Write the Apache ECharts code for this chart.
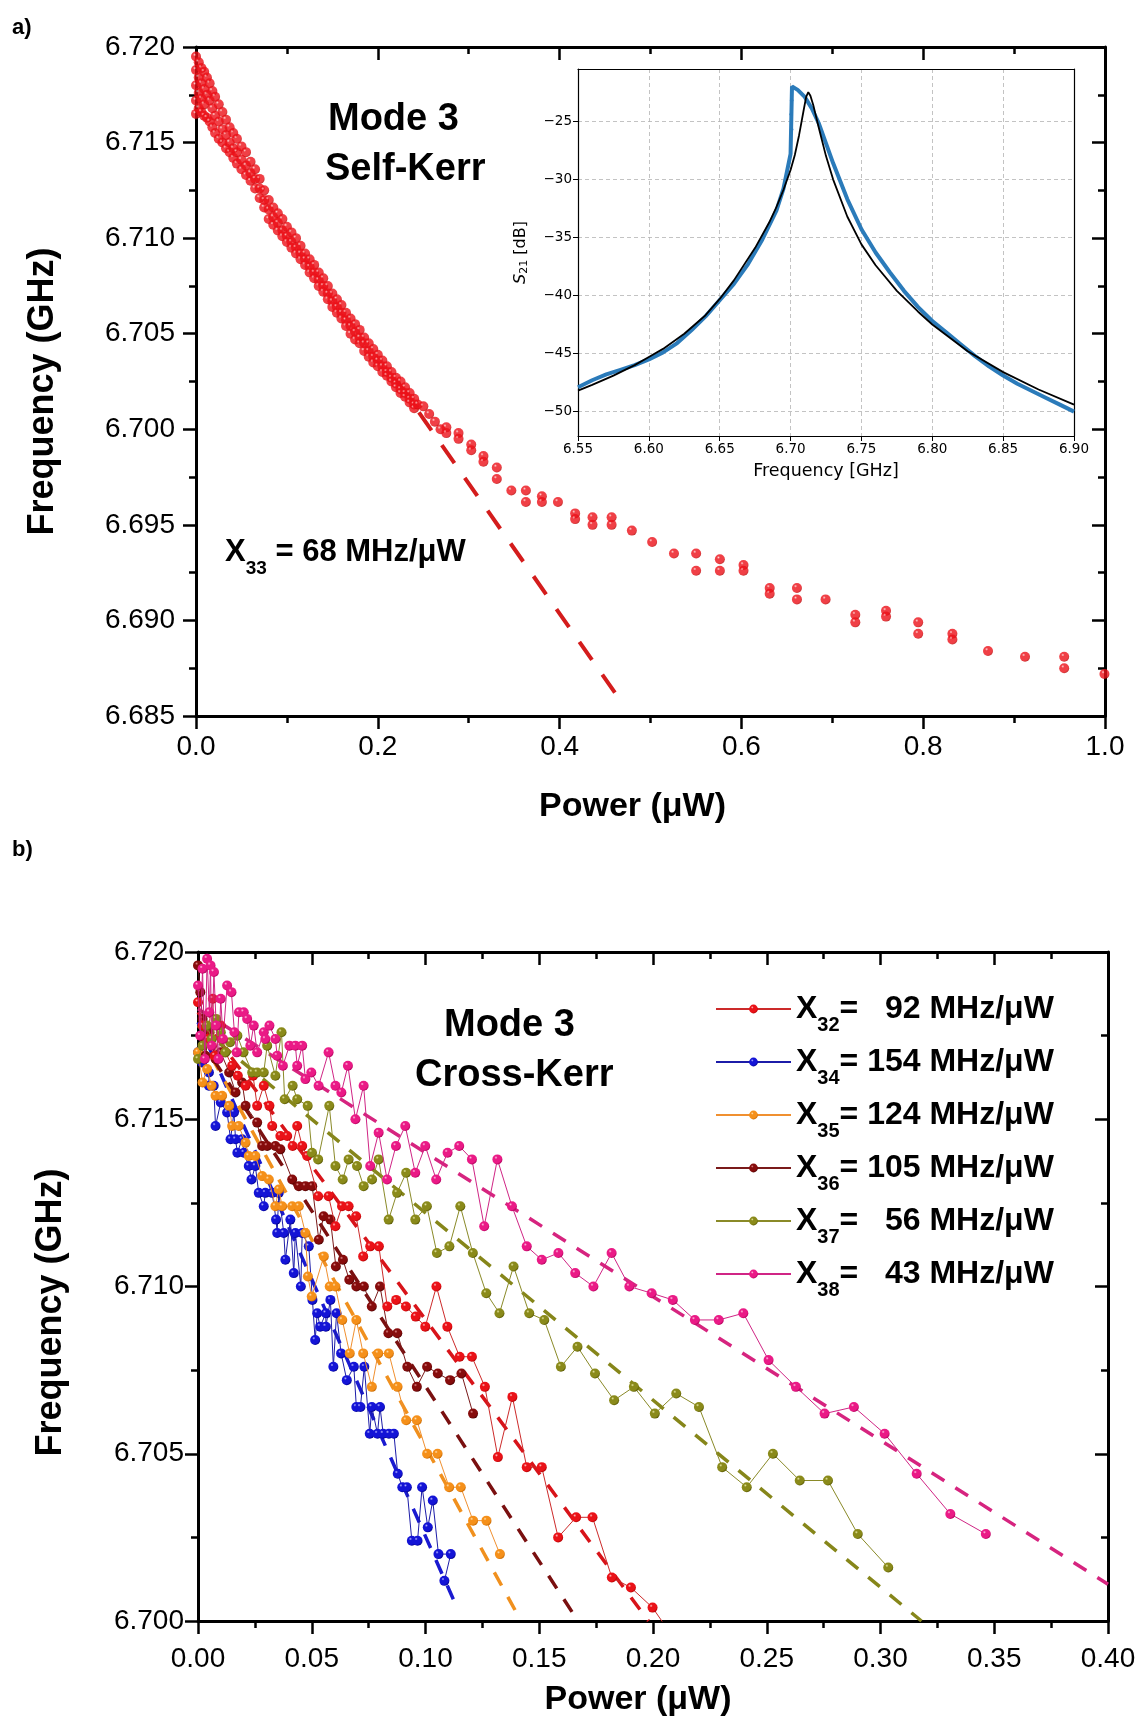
<!DOCTYPE html>
<html><head><meta charset="utf-8">
<script src="https://cdn.jsdelivr.net/npm/echarts/dist/echarts.min.js"></script>
<style>html,body{margin:0;padding:0;background:#fff}#c{width:1148px;height:1724px}</style>
</head><body><div id="c"></div><script>
// ---------- Panel a: self-Kerr (Power µW, Frequency GHz) ----------
const selfKerr = [
[0.000,6.7195],[0.000,6.7188],[0.000,6.7180],[0.000,6.7172],[0.000,6.7165],
[0.003,6.7192],[0.003,6.7184],[0.003,6.7176],[0.003,6.7168],
[0.006,6.7189],[0.006,6.7181],[0.006,6.7173],[0.006,6.7166],
[0.009,6.7187],[0.009,6.7178],[0.009,6.7170],[0.009,6.7164],
[0.012,6.7184],[0.012,6.7175],[0.012,6.7163],
[0.015,6.7181],[0.015,6.7172],[0.015,6.7161],
[0.018,6.7177],[0.018,6.7168],[0.018,6.7158],
[0.021,6.7174],[0.021,6.7164],[0.021,6.7155],
[0.025,6.7170],[0.025,6.7161],[0.025,6.7152],
[0.029,6.7166],[0.029,6.7157],[0.029,6.7150],
[0.033,6.7162],[0.033,6.7154],[0.033,6.7147],
[0.037,6.7158],[0.037,6.7150],[0.037,6.7145],
[0.041,6.7155],[0.041,6.7147],[0.041,6.7142],
[0.045,6.7152],[0.045,6.7145],[0.045,6.7139],
[0.050,6.7148],[0.050,6.7141],[0.050,6.7136],
[0.055,6.7145],[0.055,6.7138],[0.055,6.7133],
[0.060,6.7140],[0.060,6.7134],[0.060,6.7130],
[0.065,6.7136],[0.065,6.7131],[0.065,6.7126],
[0.070,6.7131],[0.070,6.7126],[0.070,6.7121],
[0.075,6.7125],[0.075,6.7120],[0.075,6.7116],
[0.080,6.7120],[0.080,6.7115],[0.080,6.7110],
[0.085,6.7116],[0.085,6.7111],[0.085,6.7107],
[0.090,6.7113],[0.090,6.7108],[0.090,6.7104],
[0.095,6.7110],[0.095,6.7104],[0.095,6.7101],
[0.100,6.7106],[0.100,6.7101],[0.100,6.7098],
[0.105,6.7103],[0.105,6.7098],[0.105,6.7095],
[0.110,6.7100],[0.110,6.7095],[0.110,6.7092],
[0.115,6.7096],[0.115,6.7092],[0.115,6.7089],
[0.120,6.7092],[0.120,6.7089],[0.120,6.7086],
[0.125,6.7089],[0.125,6.7085],[0.125,6.7082],
[0.130,6.7086],[0.130,6.7082],[0.130,6.7079],
[0.135,6.7082],[0.135,6.7078],[0.135,6.7075],
[0.140,6.7079],[0.140,6.7075],[0.140,6.7072],
[0.145,6.7075],[0.145,6.7071],[0.145,6.7068],
[0.150,6.7071],[0.150,6.7067],[0.150,6.7064],
[0.155,6.7068],[0.155,6.7064],[0.155,6.7061],
[0.160,6.7065],[0.160,6.7061],[0.160,6.7058],
[0.165,6.7061],[0.165,6.7057],[0.165,6.7054],
[0.170,6.7058],[0.170,6.7054],[0.170,6.7050],
[0.175,6.7055],[0.175,6.7051],[0.175,6.7047],
[0.180,6.7052],[0.180,6.7048],[0.180,6.7045],
[0.185,6.7048],[0.185,6.7045],[0.185,6.7041],
[0.190,6.7045],[0.190,6.7041],[0.190,6.7038],
[0.195,6.7042],[0.195,6.7038],[0.195,6.7035],
[0.200,6.7039],[0.200,6.7036],[0.200,6.7033],
[0.205,6.7036],[0.205,6.7033],[0.205,6.7030],
[0.210,6.7033],[0.210,6.7030],[0.210,6.7028],
[0.215,6.7030],[0.215,6.7027],[0.215,6.7025],
[0.220,6.7027],[0.220,6.7024],[0.220,6.7022],
[0.225,6.7025],[0.225,6.7021],[0.225,6.7019],
[0.230,6.7022],[0.230,6.7019],[0.230,6.7017],
[0.235,6.7019],[0.235,6.7016],[0.235,6.7014],
[0.240,6.7016],[0.240,6.7013],[0.240,6.7011],
[0.2439,6.7013],[0.2501,6.7012],[0.2565,6.7008],[0.2628,6.7004],[0.2690,6.7000],
[0.2754,6.7001],[0.2754,6.6998],[0.2888,6.6998],[0.2888,6.6995],[0.3028,6.6992],[0.3028,6.6989],
[0.3162,6.6986],[0.3162,6.6983],[0.3309,6.6980],[0.3309,6.6974],[0.3469,6.6968],
[0.3629,6.6968],[0.3629,6.6962],[0.3805,6.6965],[0.3805,6.6962],[0.3982,6.6962],
[0.4171,6.6956],[0.4171,6.6953],[0.4362,6.6954],[0.4362,6.6950],[0.4572,6.6954],[0.4572,6.6950],
[0.4795,6.6947],[0.5018,6.6941],[0.5258,6.6935],[0.5502,6.6935],[0.5502,6.6926],
[0.5763,6.6932],[0.5763,6.6926],[0.6023,6.6929],[0.6023,6.6926],[0.6311,6.6917],[0.6311,6.6914],
[0.6611,6.6917],[0.6611,6.6911],[0.6926,6.6911],[0.7253,6.6903],[0.7253,6.6899],
[0.7591,6.6905],[0.7591,6.6902],[0.7945,6.6899],[0.7945,6.6893],[0.8321,6.6893],[0.8321,6.6890],
[0.8713,6.6884],[0.9120,6.6881],[0.9551,6.6881],[0.9551,6.6875],[0.9994,6.6872]
];
const selfKerrFit = [[0.22,6.7026],[0.47,6.6856]];

// ---------- Inset: S21 vs frequency ----------
const s21Measured = [
[6.550,-47.9],[6.555,-47.6],[6.560,-47.3],[6.570,-46.8],[6.580,-46.4],[6.590,-46.0],[6.600,-45.5],
[6.610,-44.9],[6.620,-44.1],[6.630,-43.0],[6.640,-41.8],[6.650,-40.4],[6.660,-39.0],[6.670,-37.3],
[6.680,-35.2],[6.690,-32.7],[6.695,-30.8],[6.700,-27.8],[6.701,-22.0],[6.705,-22.3],[6.710,-22.9],
[6.715,-23.9],[6.720,-25.2],[6.725,-26.9],[6.730,-28.6],[6.740,-31.7],[6.750,-34.3],[6.760,-36.3],
[6.770,-38.0],[6.780,-39.6],[6.790,-41.0],[6.800,-42.2],[6.810,-43.2],[6.820,-44.2],[6.830,-45.2],
[6.840,-46.1],[6.850,-46.9],[6.860,-47.6],[6.870,-48.2],[6.880,-48.8],[6.890,-49.4],[6.900,-50.0]
];
const s21Stray = [[6.7008,-23.2],[6.7008,-25.7],[6.7004,-24.4]];
const s21Fit = [
[6.550,-48.2],[6.560,-47.7],[6.575,-46.9],[6.590,-46.0],[6.600,-45.3],[6.610,-44.6],[6.625,-43.3],
[6.640,-41.7],[6.650,-40.3],[6.660,-38.7],[6.675,-35.9],[6.685,-33.7],[6.690,-32.4],[6.695,-30.9],
[6.700,-29.2],[6.703,-27.9],[6.706,-26.2],[6.709,-24.2],[6.711,-22.9],[6.7125,-22.5],[6.714,-22.8],
[6.716,-23.6],[6.718,-24.6],[6.720,-25.6],[6.725,-28.0],[6.730,-30.0],[6.740,-33.2],[6.750,-35.6],
[6.760,-37.4],[6.775,-39.6],[6.790,-41.4],[6.800,-42.5],[6.825,-44.8],[6.850,-46.6],[6.875,-48.1],[6.900,-49.4]
];

// ---------- Panel b: cross-Kerr ----------
const x32 = [
[0.000,6.7185],[0.002,6.7178],[0.004,6.7174],[0.0065,6.7186],[0.0073,6.7169],[0.010,6.7178],[0.012,6.7170],
[0.015,6.7166],[0.0175,6.7163],[0.0209,6.7160],[0.0242,6.7163],[0.026,6.7154],[0.0289,6.7160],[0.0314,6.7154],
[0.0326,6.7148],[0.0362,6.7145],[0.0392,6.7145],[0.0416,6.7142],[0.0436,6.7148],[0.0458,6.7142],[0.0480,6.7139],
[0.0528,6.7127],[0.0574,6.7127],[0.0604,6.7118],[0.0633,6.7124],[0.0662,6.7124],[0.0695,6.7121],[0.0726,6.7109],
[0.0757,6.7112],[0.0795,6.7112],[0.0832,6.7094],[0.0871,6.7096],[0.0914,6.7094],[0.0957,6.7091],[0.0999,6.7088],
[0.1048,6.7100],[0.1096,6.7088],[0.1150,6.7079],[0.1204,6.7079],[0.1261,6.7070],[0.1318,6.7049],[0.1382,6.7067],
[0.1445,6.7046],[0.1511,6.7046],[0.1583,6.7025],[0.1662,6.7031],[0.1734,6.7031],[0.1819,6.7013],[0.1903,6.7010],
[0.1998,6.7004],[0.2090,6.6995]
];
const x34 = [
[0.000,6.7170],[0.0018,6.7167],[0.0048,6.7164],[0.0048,6.7160],[0.0069,6.7160],[0.0077,6.7148],[0.0100,6.7155],
[0.0128,6.7152],[0.0143,6.7144],[0.0158,6.7152],[0.0165,6.7144],[0.0173,6.7140],[0.0194,6.7144],[0.0202,6.7140],
[0.0223,6.7136],[0.0235,6.7132],[0.0252,6.7136],[0.0267,6.7128],[0.0289,6.7124],[0.0296,6.7128],[0.0326,6.7128],
[0.0343,6.7120],[0.0348,6.7116],[0.0355,6.7128],[0.0377,6.7116],[0.0384,6.7108],[0.0406,6.7120],[0.0421,6.7104],
[0.0428,6.7116],[0.0452,6.7100],[0.0458,6.7116],[0.0487,6.7112],[0.0503,6.7096],[0.0515,6.7084],[0.0524,6.7092],
[0.0537,6.7088],[0.0562,6.7092],[0.0562,6.7088],[0.0582,6.7096],[0.0595,6.7076],[0.0609,6.7092],[0.0629,6.7080],
[0.0654,6.7072],[0.0685,6.7076],[0.0696,6.7064],[0.0714,6.7064],[0.0731,6.7076],[0.0755,6.7056],[0.0764,6.7064],
[0.0789,6.7056],[0.0800,6.7064],[0.0814,6.7056],[0.0839,6.7056],[0.0861,6.7056],[0.0878,6.7044],[0.0898,6.7040],
[0.0918,6.7040],[0.0940,6.7024],[0.0965,6.7024],[0.0985,6.7040],[0.1010,6.7028],[0.1032,6.7036],[0.1057,6.7020],
[0.1111,6.7020],[0.1083,6.7012]
];
const x35 = [
[0.000,6.7170],[0.002,6.7161],[0.004,6.7165],[0.006,6.7160],[0.0077,6.7157],[0.0106,6.7157],[0.0137,6.7154],
[0.0150,6.7148],[0.0179,6.7148],[0.0209,6.7143],[0.0223,6.7139],[0.0252,6.7139],[0.0282,6.7133],[0.0311,6.7132],
[0.0340,6.7124],[0.0355,6.7129],[0.0370,6.7124],[0.0414,6.7124],[0.0443,6.7124],[0.0472,6.7116],[0.0483,6.7103],
[0.0500,6.7097],[0.0553,6.7109],[0.0579,6.7100],[0.0604,6.7100],[0.0634,6.7090],[0.0667,6.7080],[0.0696,6.7090],
[0.0726,6.7080],[0.0764,6.7070],[0.0792,6.7080],[0.0839,6.7080],[0.0877,6.7070],[0.0915,6.7060],[0.0962,6.7060],
[0.1007,6.7050],[0.1053,6.7050],[0.1104,6.7040],[0.1155,6.7040],[0.1209,6.7030],[0.1268,6.7030],[0.1327,6.7020]
];
const x36 = [
[0.000,6.7196],[0.001,6.7188],[0.002,6.7180],[0.0033,6.7169],[0.005,6.7176],[0.0077,6.7168],[0.010,6.7170],
[0.0137,6.7164],[0.0165,6.7158],[0.0194,6.7161],[0.0209,6.7154],[0.0260,6.7149],[0.0282,6.7142],[0.0304,6.7142],
[0.0340,6.7142],[0.0362,6.7141],[0.0414,6.7132],[0.0443,6.7130],[0.0472,6.7130],[0.0502,6.7130],[0.0531,6.7114],
[0.0552,6.7121],[0.0582,6.7120],[0.0606,6.7106],[0.0637,6.7108],[0.0665,6.7102],[0.0696,6.7100],[0.0729,6.7100],
[0.0764,6.7094],[0.0800,6.7100],[0.0837,6.7086],[0.0876,6.7086],[0.0920,6.7076],[0.0962,6.7070],[0.1007,6.7076],
[0.1054,6.7074],[0.1108,6.7072],[0.1158,6.7074],[0.1209,6.7062]
];
const x37 = [
[0.000,6.7168],[0.002,6.7172],[0.004,6.7178],[0.006,6.7174],[0.008,6.7180],[0.010,6.7176],[0.012,6.7170],
[0.0141,6.7173],[0.0173,6.7175],[0.020,6.7170],[0.0238,6.7164],[0.026,6.7164],[0.0289,6.7164],[0.0304,6.7172],
[0.034,6.7163],[0.0367,6.7176],[0.0381,6.7156],[0.0416,6.7160],[0.0436,6.7156],[0.0482,6.7154],[0.0501,6.7140],
[0.0528,6.7138],[0.0577,6.7154],[0.0604,6.7136],[0.0636,6.7132],[0.0662,6.7138],[0.0699,6.7136],[0.0728,6.7130],
[0.0765,6.7132],[0.0794,6.7138],[0.0838,6.7120],[0.0875,6.7128],[0.0915,6.7134],[0.0955,6.7120],[0.1006,6.7124],
[0.1050,6.7110],[0.1105,6.7112],[0.1153,6.7124],[0.1208,6.7110],[0.1267,6.7098],[0.1325,6.7092],[0.1387,6.7106],
[0.1456,6.7092],[0.1522,6.7090],[0.1595,6.7076],[0.1668,6.7082],[0.1745,6.7074],[0.1829,6.7066],[0.1916,6.7070],
[0.2008,6.7062],[0.2102,6.7068],[0.2202,6.7064],[0.2304,6.7046],[0.2412,6.7040],[0.2527,6.7050],[0.2645,6.7042],
[0.2769,6.7042],[0.2900,6.7026],[0.3034,6.7016]
];
const x38 = [
[0.000,6.7190],[0.001,6.7175],[0.002,6.7195],[0.003,6.7168],[0.004,6.7198],[0.005,6.7182],[0.0055,6.7196],
[0.006,6.7172],[0.007,6.7194],[0.008,6.7178],[0.009,6.7168],[0.010,6.7186],[0.011,6.7174],[0.0128,6.7190],
[0.0147,6.7188],[0.016,6.7176],[0.017,6.7170],[0.018,6.7182],[0.0201,6.7182],[0.0216,6.7180],[0.023,6.7172],
[0.0245,6.7178],[0.026,6.7170],[0.0289,6.7176],[0.0296,6.7174],[0.0314,6.7178],[0.034,6.7174],[0.0348,6.7169],
[0.0373,6.7166],[0.0402,6.7172],[0.0428,6.7172],[0.0436,6.7166],[0.0458,6.7172],[0.0472,6.7162],[0.0498,6.7164],
[0.053,6.7160],[0.0574,6.7170],[0.0604,6.7160],[0.063,6.7158],[0.0659,6.7166],[0.0692,6.7150],[0.0728,6.7160],
[0.0757,6.7136],[0.0794,6.7146],[0.0831,6.7132],[0.087,6.7142],[0.0911,6.7148],[0.0955,6.7134],[0.0999,6.7142],
[0.1047,6.7132],[0.1097,6.7140],[0.1148,6.7142],[0.1204,6.7138],[0.1258,6.7118],[0.1316,6.7138],[0.138,6.7124],
[0.1445,6.7112],[0.1511,6.7108],[0.1584,6.7110],[0.1658,6.7104],[0.1738,6.7100],[0.1818,6.7110],[0.1896,6.7100],
[0.1994,6.7098],[0.2087,6.7096],[0.2184,6.7090],[0.2289,6.7090],[0.2397,6.7092],[0.2508,6.7078],[0.2628,6.7070],
[0.2754,6.7062],[0.2883,6.7064],[0.3018,6.7056],[0.3159,6.7044],[0.3307,6.7032],[0.3463,6.7026]
];
const fit32 = [[0,6.7182],[0.198,6.7000]];
const fit34 = [[0,6.7179],[0.1145,6.7003]];
const fit35 = [[0,6.7176],[0.142,6.7000]];
const fit36 = [[0,6.7175],[0.167,6.7000]];
const fit37 = [[0,6.7178],[0.318,6.7000]];
const fit38 = [[0,6.7183],[0.400,6.7011]];

const legendNames = ['X32','X34','X35','X36','X37','X38'];
const legendSubs = ['32','34','35','36','37','38'];
const legendRates = ['   92',' 154',' 124',' 105','   56','   43'];

// ---------- styling helpers ----------
const FONT = 'Liberation Sans';
function ball(light, base, dark) {
  return new echarts.graphic.RadialGradient(0.36, 0.32, 0.72, [
    {offset: 0, color: light}, {offset: 0.22, color: base}, {offset: 0.75, color: base}, {offset: 1, color: dark}]);
}
const pal = {
  X32: {ball: ['#ffc4c4', '#ea1218', '#b00000'], line: '#cc2a2a', fit: '#d8141a'},
  X34: {ball: ['#b4b4ff', '#1414d6', '#00008a'], line: '#1c1ca8', fit: '#1a1ad0'},
  X35: {ball: ['#ffe0b0', '#f5901a', '#c46600'], line: '#f09030', fit: '#f0901e'},
  X36: {ball: ['#e08a8a', '#860c0c', '#480000'], line: '#7a1a1a', fit: '#7a1010'},
  X37: {ball: ['#e6e6a0', '#8a8a1a', '#555500'], line: '#8a8a28', fit: '#86861a'},
  X38: {ball: ['#ffc0e0', '#ea1a86', '#b0005a'], line: '#d02585', fit: '#d6247f'}
};
const dataByName = {X32: x32, X34: x34, X35: x35, X36: x36, X37: x37, X38: x38};
const fitByName = {X32: fit32, X34: fit34, X35: fit35, X36: fit36, X37: fit37, X38: fit38};

function mainAxisCommon(extra) {
  return Object.assign({
    type: 'value',
    axisLine: {show: true, onZero: false, lineStyle: {color: '#000', width: 3}},
    axisTick: {show: true, inside: false, length: 13, lineStyle: {color: '#000', width: 2.5}},
    minorTick: {show: true, splitNumber: 2, length: 7, lineStyle: {color: '#000', width: 2.5}},
    splitLine: {show: false},
    axisLabel: {show: true, fontSize: 28, fontFamily: FONT, color: '#000'}
  }, extra);
}
function mirrorAxis(gridIndex, position, min, max, interval) {
  return mainAxisCommon({
    gridIndex, position, min, max, interval,
    axisTick: {show: true, inside: true, length: 13, lineStyle: {color: '#000', width: 2.5}},
    minorTick: {show: true, splitNumber: 2, length: 7, lineStyle: {color: '#000', width: 2.5}},
    axisLabel: {show: false}
  });
}
const insetLabel = {fontSize: 13.5, fontFamily: 'DejaVu Sans', color: '#000'};
const xNameStyle = (padRight) => ({fontSize: 34, fontWeight: 'bold', fontFamily: FONT, color: '#000', padding: [0, padRight, 0, 0]});
const yNameStyle = (padRight) => ({fontSize: 36, fontWeight: 'bold', fontFamily: FONT, color: '#000', padding: [0, padRight, 0, 0]});

const xAxes = [
  mainAxisCommon({gridIndex: 0, position: 'bottom', min: 0, max: 1, interval: 0.2,
    axisLabel: {fontSize: 28, fontFamily: FONT, color: '#000', margin: 17, formatter: v => v.toFixed(1)},
    name: 'Power (μW)', nameLocation: 'middle', nameGap: 74, nameTextStyle: xNameStyle(36)}),
  mirrorAxis(0, 'top', 0, 1, 0.2),
  {type: 'value', gridIndex: 1, position: 'bottom', min: 6.55, max: 6.90, interval: 0.05, z: 3,
    axisLine: {show: true, onZero: false, lineStyle: {color: '#000', width: 1.2}},
    axisTick: {show: true, length: 5, lineStyle: {color: '#000', width: 1}},
    axisLabel: Object.assign({margin: 6, formatter: v => v.toFixed(2)}, insetLabel),
    splitLine: {show: true, lineStyle: {color: '#b4b4b4', width: 0.8, type: [4, 3]}},
    name: 'Frequency [GHz]', nameLocation: 'middle', nameGap: 26,
    nameTextStyle: {fontSize: 17.5, fontFamily: 'DejaVu Sans', color: '#000'}},
  {type: 'value', gridIndex: 1, position: 'top', min: 6.55, max: 6.90, z: 3,
    axisLine: {show: true, onZero: false, lineStyle: {color: '#000', width: 1.2}},
    axisTick: {show: false}, axisLabel: {show: false}, splitLine: {show: false}},
  mainAxisCommon({gridIndex: 2, position: 'bottom', min: 0, max: 0.4, interval: 0.05,
    axisLabel: {fontSize: 28, fontFamily: FONT, color: '#000', margin: 24, formatter: v => v.toFixed(2)},
    name: 'Power (μW)', nameLocation: 'middle', nameGap: 62, nameTextStyle: xNameStyle(30)}),
  mirrorAxis(2, 'top', 0, 0.4, 0.05)
];
const yAxes = [
  mainAxisCommon({gridIndex: 0, position: 'left', min: 6.685, max: 6.720, interval: 0.005,
    axisLabel: {fontSize: 28, fontFamily: FONT, color: '#000', margin: 21, formatter: v => v.toFixed(3)},
    name: 'Frequency (GHz)', nameLocation: 'middle', nameGap: 135, nameTextStyle: yNameStyle(20)}),
  mirrorAxis(0, 'right', 6.685, 6.720, 0.005),
  {type: 'value', gridIndex: 1, position: 'left', min: -52.1, max: -20.5, z: 3,
    axisLine: {show: true, onZero: false, lineStyle: {color: '#000', width: 1.2}},
    axisTick: {show: true, length: 5, lineStyle: {color: '#000', width: 1}},
    axisLabel: Object.assign({margin: 6, showMinLabel: false, showMaxLabel: false,
      formatter: v => (Math.abs(v % 5) < 1e-9 ? '\u2212' + Math.abs(v) : '')}, insetLabel),
    splitLine: {show: true, lineStyle: {color: '#b4b4b4', width: 0.8, type: [4, 3]}},
    name: '{i|S}{s|21} [dB]', nameLocation: 'middle', nameGap: 48,
    nameTextStyle: {fontSize: 16, fontFamily: 'DejaVu Sans', color: '#000',
      rich: {i: {fontSize: 16, fontStyle: 'italic', fontFamily: 'DejaVu Sans', color: '#000'},
             s: {fontSize: 11, fontFamily: 'DejaVu Sans', color: '#000', padding: [8, 0, 0, 0]}}}},
  {type: 'value', gridIndex: 1, position: 'right', min: -52.1, max: -20.5, z: 3,
    axisLine: {show: true, onZero: false, lineStyle: {color: '#000', width: 1.2}},
    axisTick: {show: false}, axisLabel: {show: false}, splitLine: {show: false}},
  mainAxisCommon({gridIndex: 2, position: 'left', min: 6.700, max: 6.720, interval: 0.005,
    axisLabel: {fontSize: 28, fontFamily: FONT, color: '#000', margin: 14, formatter: v => v.toFixed(3)},
    name: 'Frequency (GHz)', nameLocation: 'middle', nameGap: 129, nameTextStyle: yNameStyle(52)}),
  mirrorAxis(2, 'right', 6.700, 6.720, 0.005)
];

const series = [
  {type: 'line', name: 'selfKerrFit', xAxisIndex: 0, yAxisIndex: 0, data: selfKerrFit, symbol: 'none',
   lineStyle: {color: '#d41c1c', width: 4, type: [22, 18]}, z: 2},
  {type: 'scatter', name: 'selfKerr', xAxisIndex: 0, yAxisIndex: 0, data: selfKerr, symbol: 'circle', symbolSize: 10,
   itemStyle: {color: ball('#ffc8c8', '#ec1018', '#b40000')}, z: 3},
  {type: 'line', name: 's21', xAxisIndex: 2, yAxisIndex: 2, data: s21Measured, symbol: 'none',
   lineStyle: {color: '#2b7bba', width: 4}, z: 4},
  {type: 'scatter', name: 's21stray', xAxisIndex: 2, yAxisIndex: 2, data: s21Stray, symbolSize: 3.5,
   itemStyle: {color: '#2b7bba'}, z: 4},
  {type: 'line', name: 's21fit', xAxisIndex: 2, yAxisIndex: 2, data: s21Fit, symbol: 'none', smooth: false,
   lineStyle: {color: '#000', width: 1.8}, z: 5}
];
legendNames.forEach(n => {
  series.push({type: 'line', name: 'fit' + n, xAxisIndex: 4, yAxisIndex: 4, data: fitByName[n], symbol: 'none',
    lineStyle: {color: pal[n].fit, width: 3.5, type: [15, 13]}, z: 2});
});
['X34', 'X35', 'X36', 'X32', 'X37', 'X38'].forEach((n, i) => {
  series.push({type: 'line', name: n, xAxisIndex: 4, yAxisIndex: 4, data: dataByName[n], symbol: 'circle',
    symbolSize: 10, showSymbol: true, lineStyle: {color: pal[n].line, width: 1},
    itemStyle: {color: ball(pal[n].ball[0], pal[n].ball[1], pal[n].ball[2])}, z: 3 + i * 0.01});
});

const subRich = {
  m: {fontSize: 32, fontWeight: 'bold', fontFamily: FONT, color: '#000', lineHeight: 32},
  s: {fontSize: 20, fontWeight: 'bold', fontFamily: FONT, color: '#000', lineHeight: 20, padding: [32, 0, 0, 0]}
};

const option = {
  animation: false,
  backgroundColor: '#fff',
  grid: [
    {left: 196, top: 47, width: 909, height: 669, outerBoundsMode: 'none'},
    {left: 578, top: 69, width: 496, height: 367, show: true, backgroundColor: '#fff', borderWidth: 0, outerBoundsMode: 'none'},
    {left: 198, top: 952, width: 910, height: 669, outerBoundsMode: 'none'}
  ],
  xAxis: xAxes,
  yAxis: yAxes,
  legend: {
    orient: 'vertical', left: 715, top: 983, padding: 0, itemGap: 1, itemWidth: 75, itemHeight: 11,
    data: legendNames, selectedMode: false,
    formatter: name => {
      const i = legendNames.indexOf(name);
      return '{m|X}{s|' + legendSubs[i] + '}{m|=' + legendRates[i] + ' MHz/μW}';
    },
    textStyle: {rich: subRich}
  },
  graphic: [
    {type: 'text', left: 12, top: 17, style: {text: 'a)', font: 'bold 22px "Liberation Sans"', fill: '#000'}},
    {type: 'text', left: 12, top: 839, style: {text: 'b)', font: 'bold 22px "Liberation Sans"', fill: '#000'}},
    {type: 'text', left: 328, top: 101, style: {text: 'Mode 3', font: 'bold 38px "Liberation Sans"', fill: '#000'}},
    {type: 'text', left: 325, top: 151, style: {text: 'Self-Kerr', font: 'bold 38px "Liberation Sans"', fill: '#000'}},
    {type: 'text', left: 444, top: 1007, style: {text: 'Mode 3', font: 'bold 38px "Liberation Sans"', fill: '#000'}},
    {type: 'text', left: 415, top: 1057, style: {text: 'Cross-Kerr', font: 'bold 38px "Liberation Sans"', fill: '#000'}},
    {type: 'text', left: 225, top: 527, style: {
      text: '{m|X}{s|33}{m| = 68 MHz/μW}',
      rich: {
        m: {fontSize: 31, fontWeight: 'bold', fontFamily: FONT, fill: '#000', color: '#000', lineHeight: 31},
        s: {fontSize: 19, fontWeight: 'bold', fontFamily: FONT, fill: '#000', color: '#000', lineHeight: 19, padding: [32, 0, 0, 0]}
      }}}
  ],
  series
};
const chart = echarts.init(document.getElementById('c'), null, {renderer: 'canvas'});
chart.setOption(option);
</script></body></html>
